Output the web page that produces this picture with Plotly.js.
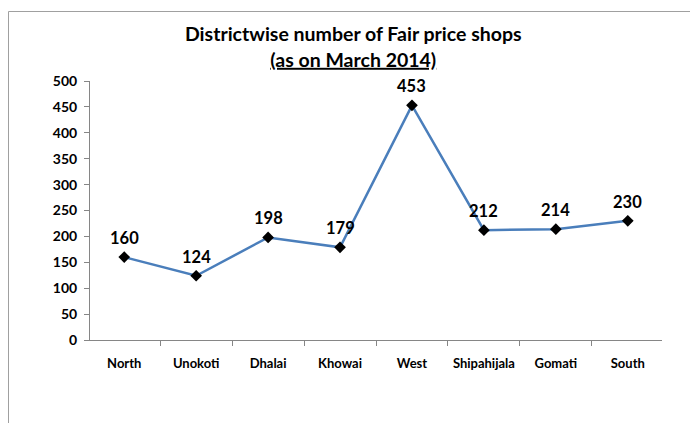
<!DOCTYPE html>
<html>
<head>
<meta charset="utf-8">
<script src="https://cdn.plot.ly/plotly-3.0.1.min.js"></script>
<style>html,body{margin:0;padding:0;background:#fff;}#chart{width:690px;height:423px;}</style>
</head>
<body>
<div id="chart"></div>
<script>
const districts = ["North", "Unokoti", "Dhalai", "Khowai", "West", "Shipahijala", "Gomati", "South"];
const shops = [160, 124, 198, 179, 453, 212, 214, 230];
const yTicks = [0, 50, 100, 150, 200, 250, 300, 350, 400, 450, 500];
const titleLine1 = "Districtwise number of Fair price shops";
const titleLine2 = "(as on March 2014)";

const axisColor = "#868686";
const fontFam = "Lato, 'Open Sans', sans-serif";

const trace = {
  type: "scatter",
  mode: "lines+markers",
  x: districts,
  y: shops,
  line: {color: "#4A7EBB", width: 2.5},
  marker: {symbol: "diamond", size: 9, color: "#000"},
  cliponaxis: false,
  hoverinfo: "x+y"
};

const labels = districts.map((d, i) => ({
  x: d, y: shops[i], xref: "x", yref: "y",
  text: String(shops[i]),
  showarrow: false,
  yanchor: "bottom",
  yshift: 7,
  font: {family: fontFam, size: 16.5, color: "#000", weight: "bold"}
}));

const L = 90, R = 28, T = 81, B = 83, W = 690, H = 423;
const pw = W - L - R, ph = H - T - B;
const px = v => (v - L) / pw;
const py = v => (H - B - v) / ph;

const layout = {
  width: W, height: H,
  margin: {l: L, r: R, t: T, b: B, pad: 0, autoexpand: false},
  paper_bgcolor: "#fff",
  plot_bgcolor: "#fff",
  showlegend: false,
  title: {
    text: titleLine1 + "<br><u>" + titleLine2 + "</u>",
    font: {family: fontFam, size: 19.5, color: "#000", weight: "bold"},
    x: 0.512, xanchor: "center",
    y: 0.902, yanchor: "middle", yref: "container"
  },
  annotations: labels,
  xaxis: {
    type: "category",
    showline: true, linecolor: axisColor, linewidth: 1,
    ticks: "outside", tickson: "boundaries", ticklen: 5, tickcolor: axisColor,
    showgrid: false, zeroline: false,
    tickangle: 0,
    automargin: false,
    tickfont: {family: fontFam, size: 13, color: "#000", weight: "bold"},
    ticklabelstandoff: 11,
    fixedrange: true
  },
  yaxis: {
    range: [0, 500],
    tickvals: yTicks,
    ticktext: yTicks.map(String),
    showline: true, linecolor: axisColor, linewidth: 1,
    ticks: "outside", ticklen: 5, tickcolor: axisColor,
    showgrid: false, zeroline: false,
    automargin: false,
    tickfont: {family: fontFam, size: 14, color: "#000", weight: "bold"},
    ticklabelstandoff: 4,
    fixedrange: true
  },
  shapes: [
    {type: "line", xref: "paper", yref: "paper", x0: px(8.5), x1: px(700), y0: py(11.5), y1: py(11.5), line: {color: "#A0A0A0", width: 1}},
    {type: "line", xref: "paper", yref: "paper", x0: px(8.5), x1: px(8.5), y0: py(11.5), y1: py(430), line: {color: "#A0A0A0", width: 1}}
  ]
};

Plotly.newPlot("chart", [trace], layout, {displayModeBar: false, staticPlot: true});
</script>
</body>
</html>
